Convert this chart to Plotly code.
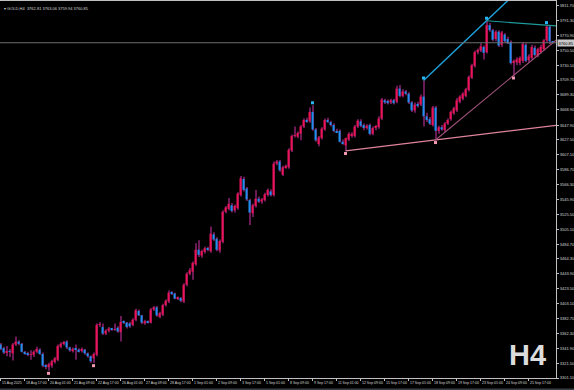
import plotly.graph_objects as go

# ---------------- data (GOLD, H4) ----------------
opens = [
    3347, 3342, 3336, 3338, 3335, 3347, 3351, 3348, 3337, 3335,
    3333, 3333, 3337, 3340, 3334, 3318, 3316, 3318, 3323, 3326,
    3344, 3348, 3351, 3343, 3338, 3341, 3340, 3338, 3340, 3335,
    3331, 3328, 3333, 3374, 3371, 3362, 3366, 3369, 3367, 3370,
    3364, 3378, 3377, 3376, 3374, 3381, 3393, 3387, 3376, 3379,
    3377, 3395, 3398, 3385, 3388, 3401, 3406, 3418, 3417, 3410,
    3411, 3406, 3429, 3444, 3447, 3457, 3477, 3469, 3474, 3479,
    3475, 3498, 3492, 3476, 3488, 3529, 3533, 3538, 3531, 3534,
    3552, 3574, 3561, 3545, 3527, 3537, 3547, 3543, 3545, 3552,
    3557, 3552, 3595, 3598, 3580, 3590, 3590, 3613, 3633, 3632,
    3636, 3646, 3655, 3653, 3666, 3642, 3622, 3630, 3642, 3655,
    3652, 3648, 3640, 3640, 3625, 3620, 3628, 3634, 3633, 3646,
    3653, 3648, 3645, 3648, 3636, 3644, 3645, 3657, 3682, 3681,
    3679, 3682, 3680, 3698, 3688, 3694, 3691, 3679, 3668, 3677,
    3676, 3687, 3660, 3656, 3648, 3672, 3640, 3645, 3641, 3650,
    3656, 3664, 3668, 3680, 3684, 3688, 3696, 3713, 3729, 3748,
    3750, 3755, 3748, 3785, 3778, 3766, 3776, 3758, 3772, 3766,
    3762, 3733, 3734, 3733, 3736, 3758, 3737, 3740, 3754, 3743,
    3748, 3752, 3764, 3783, 3762.81,
]
highs = [
    3349, 3344, 3345, 3341, 3349, 3358, 3353, 3349, 3338, 3337,
    3339, 3339, 3344, 3342, 3336, 3320, 3322, 3326, 3330, 3347,
    3350, 3352, 3353, 3344, 3343, 3347, 3342, 3343, 3341, 3336,
    3332, 3336, 3376, 3378, 3376, 3368, 3371, 3370, 3376, 3372,
    3386, 3380, 3378, 3378, 3383, 3396, 3395, 3388, 3381, 3380,
    3397, 3400, 3400, 3392, 3403, 3409, 3421, 3420, 3418, 3413,
    3412, 3431, 3446, 3452, 3461, 3486, 3490, 3477, 3481, 3481,
    3509, 3501, 3494, 3491, 3531, 3537, 3548, 3541, 3539, 3556,
    3578, 3577, 3563, 3547, 3540, 3559, 3550, 3548, 3555, 3561,
    3560, 3598, 3600, 3600, 3592, 3594, 3616, 3635, 3646, 3639,
    3648, 3657, 3658, 3672, 3675, 3644, 3633, 3645, 3657, 3658,
    3654, 3650, 3643, 3642, 3628, 3631, 3638, 3638, 3648, 3656,
    3656, 3650, 3649, 3650, 3646, 3648, 3660, 3685, 3684, 3683,
    3684, 3684, 3702, 3703, 3697, 3696, 3693, 3681, 3679, 3680,
    3690, 3709, 3665, 3659, 3674, 3674, 3647, 3648, 3652, 3657,
    3668, 3673, 3685, 3689, 3693, 3699, 3716, 3732, 3750, 3753,
    3760, 3757, 3791, 3788, 3780, 3778, 3778, 3777, 3774, 3769,
    3764, 3738, 3741, 3742, 3762, 3760, 3745, 3758, 3757, 3754,
    3758, 3766, 3785, 3785, 3763.06,
]
lows = [
    3339, 3334, 3331, 3330, 3325, 3345, 3346, 3336, 3333, 3331,
    3326, 3330, 3335, 3333, 3316, 3313, 3311, 3315, 3321, 3324,
    3342, 3346, 3341, 3337, 3336, 3326, 3336, 3336, 3333, 3329,
    3322, 3321.5, 3331, 3371, 3360, 3360, 3364, 3366, 3366, 3363,
    3351, 3375, 3369, 3370, 3372, 3379, 3386, 3375, 3374, 3376,
    3376, 3393, 3385, 3383, 3386, 3399, 3404, 3415, 3409, 3408,
    3405, 3404, 3427, 3442, 3436, 3455, 3467, 3466, 3472, 3475,
    3473, 3489, 3475, 3473, 3486, 3527, 3531, 3528, 3528, 3532,
    3550, 3557, 3544, 3511, 3522, 3535, 3541, 3540, 3543, 3550,
    3550, 3550, 3593, 3584, 3578, 3588, 3588, 3611, 3631, 3630,
    3627, 3644, 3651, 3651, 3640, 3625, 3619, 3628, 3640, 3651,
    3646, 3638, 3637, 3624, 3621, 3612.5, 3626, 3631, 3631, 3644,
    3645, 3641, 3642, 3634, 3634, 3641, 3643, 3655, 3677, 3676,
    3677, 3676, 3678, 3686, 3686, 3689, 3677, 3666, 3665, 3672,
    3674, 3646, 3652, 3648, 3646, 3627.5, 3636, 3640, 3638, 3648,
    3654, 3662, 3666, 3678, 3682, 3686, 3694, 3711, 3727, 3745,
    3748, 3738, 3746, 3776, 3763, 3763, 3755, 3755, 3761, 3759,
    3731, 3716, 3730, 3730, 3733, 3734, 3734, 3738, 3742, 3741,
    3746, 3750, 3762, 3759, 3759.94,
]
closes = [
    3341, 3336, 3338, 3337, 3347, 3351, 3348, 3337, 3335, 3333,
    3334, 3337, 3341, 3334, 3318, 3317, 3320, 3324, 3328, 3345,
    3348, 3350, 3343, 3339, 3341, 3340, 3338, 3341, 3335, 3331,
    3324, 3334, 3374, 3375, 3362, 3366, 3369, 3367, 3368, 3365,
    3378, 3377, 3371, 3372, 3381, 3394, 3387, 3377, 3379, 3377,
    3395, 3398, 3387, 3390, 3401, 3407, 3418, 3417, 3410, 3411,
    3407, 3429, 3444, 3449, 3459, 3477, 3470, 3475, 3479, 3477,
    3499, 3491, 3477, 3489, 3529, 3535, 3540, 3530, 3537, 3554,
    3575, 3559, 3546, 3528, 3538, 3547, 3543, 3546, 3553, 3559,
    3552, 3595, 3598, 3586, 3590, 3592, 3614, 3633, 3634, 3637,
    3646, 3655, 3653, 3666, 3642, 3627, 3631, 3643, 3655, 3652,
    3648, 3640, 3638, 3625, 3622, 3630, 3636, 3636, 3646, 3654,
    3647, 3644, 3647, 3636, 3644, 3646, 3657, 3683, 3679, 3678,
    3682, 3678, 3698, 3688, 3694, 3691, 3679, 3668, 3676, 3674,
    3687, 3660, 3655, 3650, 3672, 3640, 3645, 3642, 3650, 3655,
    3666, 3671, 3682, 3687, 3691, 3697, 3714, 3730, 3748, 3751,
    3756, 3747, 3785, 3778, 3765, 3776, 3757, 3775, 3763, 3760,
    3733, 3736, 3738, 3740, 3759, 3736, 3742, 3755, 3744, 3752,
    3755, 3764, 3783, 3762.81, 3760.85,
]

x_labels = [
    "15 Aug 2025", "18 Aug 17:00", "20 Aug 01:00", "21 Aug 09:00", "22 Aug 17:00",
    "26 Aug 01:00", "27 Aug 09:00", "28 Aug 17:00", "1 Sep 01:00", "2 Sep 09:00",
    "3 Sep 17:00", "5 Sep 01:00", "8 Sep 09:00", "9 Sep 17:00", "11 Sep 01:00",
    "12 Sep 09:00", "15 Sep 17:00", "17 Sep 01:00", "18 Sep 09:00", "19 Sep 17:00",
    "23 Sep 01:00", "24 Sep 09:00", "25 Sep 17:00",
]
label_step = 8  # bars between time labels

y_labels = [
    "3301.10", "3321.50", "3341.90", "3362.30", "3382.70", "3403.10", "3423.50",
    "3443.90", "3464.30", "3484.70", "3505.10", "3525.50", "3545.90", "3566.30",
    "3586.70", "3607.10", "3627.50", "3647.90", "3668.90", "3689.30", "3709.70",
    "3730.10", "3750.50", "3770.90", "3791.30", "3811.70",
]

# zigzag pivots (bar indices)
pivot_high_bars = [104, 141, 162, 182]
pivot_low_bars = [16, 31, 115, 145, 171]
# trend lines: (start bar, second bar)
upper_ray = (141, 162)      # through highs
top_line = (162, 182)       # through highs
base_line = (115, 145)      # through lows
rising_line = (145, 171)    # through lows

symbol = "GOLD,H4"
timeframe = "H4"

# ---------------- styles ----------------
UP = "#EE1257"
DOWN = "#1E8FF0"
WICK = "#6A1B55"
BG = "#000000"
AXIS = "#c0c0c0"
TXT = "#d4d4d4"
FONT = "Liberation Sans"

n = len(closes)
idx = list(range(n))
body_base = [min(o, c) for o, c in zip(opens, closes)]
body_h = [max(abs(c - o), 0.9) for o, c in zip(opens, closes)]
body_col = [UP if c >= o else DOWN for o, c in zip(opens, closes)]

fig = go.Figure()
fig.add_trace(go.Bar(
    x=idx, base=lows, y=[h - l for h, l in zip(highs, lows)], width=0.34,
    marker=dict(color=WICK, line=dict(width=0)), hoverinfo="skip"))
fig.add_trace(go.Bar(
    x=idx, base=body_base, y=body_h, width=0.68,
    marker=dict(color=body_col, line=dict(width=0)), hoverinfo="skip"))

X_END = n + 2


def ext_line(b1, p1, b2, p2, end):
    slope = (p2 - p1) / (b2 - b1)
    return [b1, end], [p1, p1 + slope * (end - b1)]


lines = [
    (upper_ray, highs, "#1FA3DC", 1.4),
    (top_line, highs, "#1E9A9A", 1.1),
    (base_line, lows, "#E0849C", 1.2),
    (rising_line, lows, "#9E5278", 1.1),
]
for (b1, b2), arr, col, w in lines:
    xs, ys = ext_line(b1, arr[b1], b2, arr[b2], X_END)
    fig.add_trace(go.Scatter(x=xs, y=ys, mode="lines",
                             line=dict(color=col, width=w), hoverinfo="skip"))

# current price line
last = closes[-1]
fig.add_trace(go.Scatter(x=[-1, X_END], y=[last, last], mode="lines",
                         line=dict(color="#6e6e6e", width=1), hoverinfo="skip"))

# pivot markers
fig.add_trace(go.Scatter(
    x=pivot_high_bars, y=[highs[b] + 3.5 for b in pivot_high_bars], mode="markers",
    marker=dict(symbol="square", size=3, color="#29B6F0"), hoverinfo="skip"))
fig.add_trace(go.Scatter(
    x=pivot_low_bars, y=[lows[b] - 3.5 for b in pivot_low_bars], mode="markers",
    marker=dict(symbol="square", size=3, color="#F29AB2"), hoverinfo="skip"))

tick_x = [i * label_step for i in range(len(x_labels))]
time_annots = [
    dict(xref="x", yref="paper", x=tx, y=0, xanchor="left", yanchor="top",
         xshift=0.5, yshift=-1.5, showarrow=False, text=lab, borderpad=0,
         font=dict(family=FONT, size=3.5, color=TXT))
    for tx, lab in zip(tick_x, x_labels)
]

fig.update_layout(
    width=574, height=390,
    margin=dict(l=0, r=18, t=1, b=12),
    paper_bgcolor=BG, plot_bgcolor=BG,
    showlegend=False, barmode="overlay",
    xaxis=dict(
        range=[-0.17, 185.16],
        tickvals=tick_x,
        showticklabels=False,
        ticks="outside", ticklen=2, tickcolor=AXIS, tickwidth=1,
        showgrid=False, zeroline=False,
        showline=True, linecolor=AXIS, linewidth=1, mirror=True,
        automargin=False, fixedrange=True,
    ),
    yaxis=dict(
        side="right",
        range=[3301.1, 3818.1],
        tickvals=[float(v) for v in y_labels],
        ticktext=y_labels,
        ticks="outside", ticklen=2, tickcolor=AXIS, tickwidth=1,
        tickfont=dict(family=FONT, size=4, color=TXT),
        showgrid=False, zeroline=False,
        showline=True, linecolor=AXIS, linewidth=1, mirror=True,
        automargin=False, fixedrange=True,
    ),
    annotations=time_annots + [
        dict(xref="paper", yref="paper", x=0, y=1, xanchor="left", yanchor="top",
             xshift=2, yshift=-3, showarrow=False,
             text="\u25BE " + symbol + "  " + " ".join(
                 f"{v:.2f}" for v in (opens[-1], highs[-1], lows[-1], closes[-1])),
             font=dict(family=FONT, size=4, color=TXT)),
        dict(xref="paper", yref="paper", x=0.911, y=0.062, xanchor="left",
             yanchor="middle", showarrow=False, text="<b>" + timeframe + "</b>",
             font=dict(family=FONT, size=29, color="#dcdcdc")),
        dict(xref="paper", yref="y", x=1, y=last, xanchor="left", yanchor="middle",
             xshift=1, showarrow=False, text=f"{last:.2f}", bgcolor="#c8c8c8",
             borderpad=0.5, font=dict(family=FONT, size=4, color="#000000")),
    ],
    shapes=[
        dict(type="rect", xref="paper", yref="paper", x0=-0.01, x1=1.05,
             y0=-0.034, y1=-0.028, fillcolor="#3a3d42", line=dict(width=0),
             layer="below"),
    ],
)

fig.write_html("out.html")
